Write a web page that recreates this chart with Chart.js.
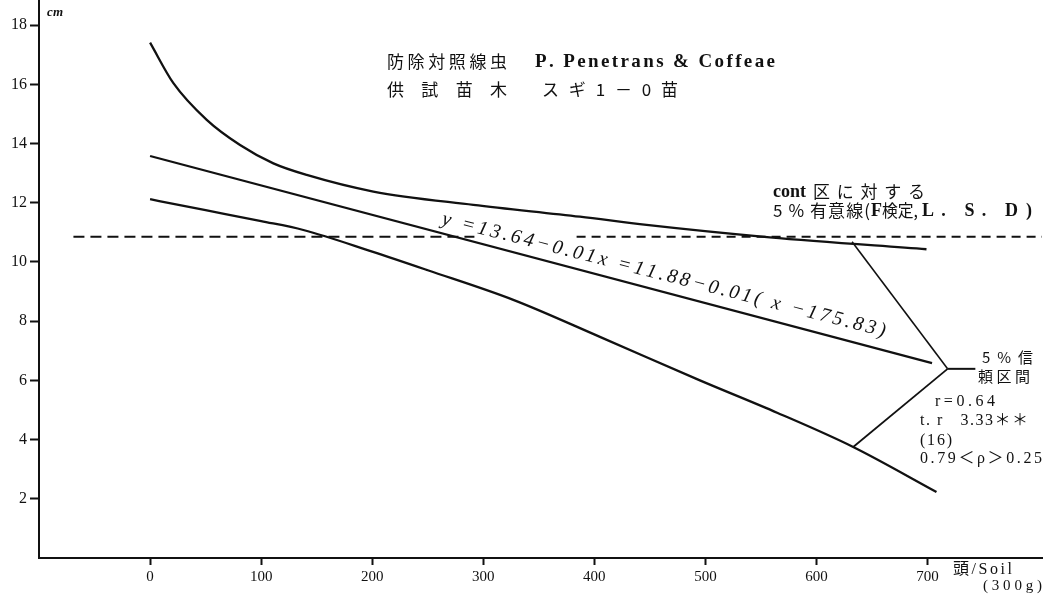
<!DOCTYPE html>
<html><head><meta charset="utf-8">
<script src="https://cdn.jsdelivr.net/npm/chart.js@4.4.0/dist/chart.umd.min.js"></script>
<style>html,body{margin:0;padding:0;background:#fff}#wrap{width:1054px;height:596px;position:relative}</style>
</head><body><div id="wrap"><canvas id="c" width="1054" height="596"></canvas></div>
<script>
// ---- data ----
const xTicks = [0, 100, 200, 300, 400, 500, 600, 700];
const yTicks = [2, 4, 6, 8, 10, 12, 14, 16, 18];
const upperX = [0, 21, 51, 81, 111, 141, 201, 291, 387, 447, 558, 699];
const upperY = [17.41, 16.04, 14.80, 13.95, 13.33, 12.94, 12.38, 11.93, 11.53, 11.25, 10.83, 10.43];
const fitX = [0, 704];
const fitY = [13.58, 6.58];
const lowerX = [0, 50, 100, 138, 200, 250, 327, 405, 495, 565, 633, 708];
const lowerY = [12.12, 11.75, 11.38, 11.08, 10.35, 9.72, 8.72, 7.47, 6.00, 4.90, 3.75, 2.23];
const lsdLevel = 10.85;
const lsdLeftX = [-69, 292];
const lsdRightX = [384, 803];
const armUpperX = [632, 718], armUpperY = [10.68, 6.39];
const armLowerX = [633, 718], armLowerY = [3.75, 6.39];
const stemX = [718, 743], stemY = [6.39, 6.39];

const pts = (xs, ys) => xs.map((x, i) => ({x: x, y: ys[i]}));
const SERIF = '"Liberation Serif", "DejaVu Serif", "Noto Sans CJK JP"';
const CJK = '"Noto Sans CJK JP", "Liberation Serif"';

function drawFit(ctx, text, x, y, width, font, color) {
  ctx.save();
  ctx.font = font;
  ctx.fillStyle = color || '#111';
  ctx.textBaseline = 'middle';
  ctx.textAlign = 'left';
  const chars = [...text];
  const ws = chars.map(c => ctx.measureText(c).width);
  const total = ws.reduce((a, b) => a + b, 0);
  let ls = chars.length > 1 ? (width - total) / (chars.length - 1) : 0;
  let sx = 1;
  if (ls < 0) { sx = width / total; ls = 0; }
  ctx.translate(x, y);
  ctx.scale(sx, 1);
  let cx = 0;
  chars.forEach((c, i) => { ctx.fillText(c, cx, 0); cx += ws[i] + ls / sx; });
  ctx.restore();
}

const textPlugin = {
  id: 'texts',
  afterDraw(chart) {
    const ctx = chart.ctx;
    const xs = chart.scales.x, ys = chart.scales.y;
    // axis units
    drawFit(ctx, 'cm', 47, 13, 16, 'bold italic 13px ' + SERIF);
    drawFit(ctx, '頭/Soil', 953, 570, 59, '16px ' + SERIF);
    drawFit(ctx, '(300g)', 983, 586, 59, '15px ' + SERIF);
    // title
    drawFit(ctx, '防除対照線虫', 387, 62, 120, '17px ' + CJK);
    drawFit(ctx, 'P. Penetrans & Coffeae', 535, 62, 240, 'bold 19px ' + SERIF);
    drawFit(ctx, '供試苗木', 387, 90, 120, '17px ' + CJK);
    drawFit(ctx, 'スギ1－0苗', 542, 90, 136, '17px ' + CJK);
    // LSD note
    drawFit(ctx, 'cont', 773, 192, 33, 'bold 18px ' + SERIF);
    drawFit(ctx, '区に対する', 813, 192, 112, '17px ' + CJK);
    drawFit(ctx, '5 % 有意線(', 773, 211, 97, '17px ' + CJK);
    drawFit(ctx, 'F', 871, 211, 11, 'bold 18px ' + SERIF);
    drawFit(ctx, '検定,', 882, 211, 36, '17px ' + CJK);
    drawFit(ctx, 'L. S. D', 922, 211, 96, 'bold 18px ' + SERIF);
    drawFit(ctx, ')', 1026, 211, 6, 'bold 18px ' + SERIF);
    // CI note and stats
    drawFit(ctx, '5 % 信', 982, 357, 51, '15px ' + CJK);
    drawFit(ctx, '頼区間', 978, 376, 52, '15px ' + CJK);
    drawFit(ctx, 'r=0.64', 935, 402, 60, '16px ' + SERIF);
    drawFit(ctx, 't. r   3.33＊＊', 920, 421, 108, '16px ' + SERIF);
    drawFit(ctx, '(16)', 920, 441, 32, '16px ' + SERIF);
    drawFit(ctx, '0.79＜ρ＞0.25', 920, 459, 122, '16px ' + SERIF);
    // regression equation along the line
    const midX = 462;
    const midY = fitY[0] + (fitY[1] - fitY[0]) * (midX - fitX[0]) / (fitX[1] - fitX[0]);
    const px = xs.getPixelForValue(midX), py = ys.getPixelForValue(midY) - 17;
    const ang = Math.atan2(ys.getPixelForValue(fitY[1]) - ys.getPixelForValue(fitY[0]),
                           xs.getPixelForValue(fitX[1]) - xs.getPixelForValue(fitX[0])) - 0.01;
    ctx.save();
    ctx.translate(px, py);
    ctx.rotate(ang);
    drawFit(ctx, 'y =13.64−0.01x =11.88−0.01( x −175.83)', -228, 0, 457, 'italic 20px ' + SERIF);
    ctx.restore();
  }
};

const line = (data, extra) => Object.assign({
  data: data, showLine: true, pointRadius: 0, borderColor: '#111', borderWidth: 2.3,
  fill: false, tension: 0
}, extra || {});

new Chart(document.getElementById('c'), {
  type: 'scatter',
  data: {
    datasets: [
      line(pts(upperX, upperY), {cubicInterpolationMode: 'monotone'}),
      line(pts(fitX, fitY)),
      line(pts(lowerX, lowerY), {cubicInterpolationMode: 'monotone'}),
      line(pts(lsdLeftX, [lsdLevel, lsdLevel]), {borderDash: [11, 6], borderWidth: 2}),
      line(pts(lsdRightX, [lsdLevel, lsdLevel]), {borderDash: [9, 6], borderWidth: 2}),
      line(pts(armUpperX, armUpperY), {borderWidth: 1.6}),
      line(pts(armLowerX, armLowerY), {borderWidth: 1.8}),
      line(pts(stemX, stemY), {borderWidth: 2})
    ]
  },
  options: {
    responsive: false,
    animation: false,
    layout: {padding: {top: 0, right: 12, left: 0, bottom: 0}},
    plugins: {legend: {display: false}, tooltip: {enabled: false}},
    scales: {
      x: {
        type: 'linear', min: -100, max: 803,
        afterBuildTicks: s => { s.ticks = xTicks.map(v => ({value: v})); },
        afterFit: s => { s.height = 38; s.paddingLeft = 0; s.paddingRight = 0; },
        grid: {display: true, drawOnChartArea: false, drawTicks: true, tickLength: 7, tickColor: '#111', tickWidth: 2},
        border: {display: true, color: '#111', width: 2},
        ticks: {color: '#111', font: {family: 'Liberation Serif', size: 15}, padding: 3, maxRotation: 0, autoSkip: false}
      },
      y: {
        type: 'linear', min: 0, max: 18.85,
        afterBuildTicks: s => { s.ticks = yTicks.map(v => ({value: v})); },
        afterFit: s => { s.width = 39; s.paddingTop = 0; s.paddingBottom = 0; },
        grid: {display: true, drawOnChartArea: false, drawTicks: true, tickLength: 9, tickColor: '#111', tickWidth: 2},
        border: {display: true, color: '#111', width: 2},
        ticks: {color: '#111', font: {family: 'Liberation Serif', size: 16}, padding: 3, autoSkip: false}
      }
    }
  },
  plugins: [textPlugin]
});
</script></body></html>
